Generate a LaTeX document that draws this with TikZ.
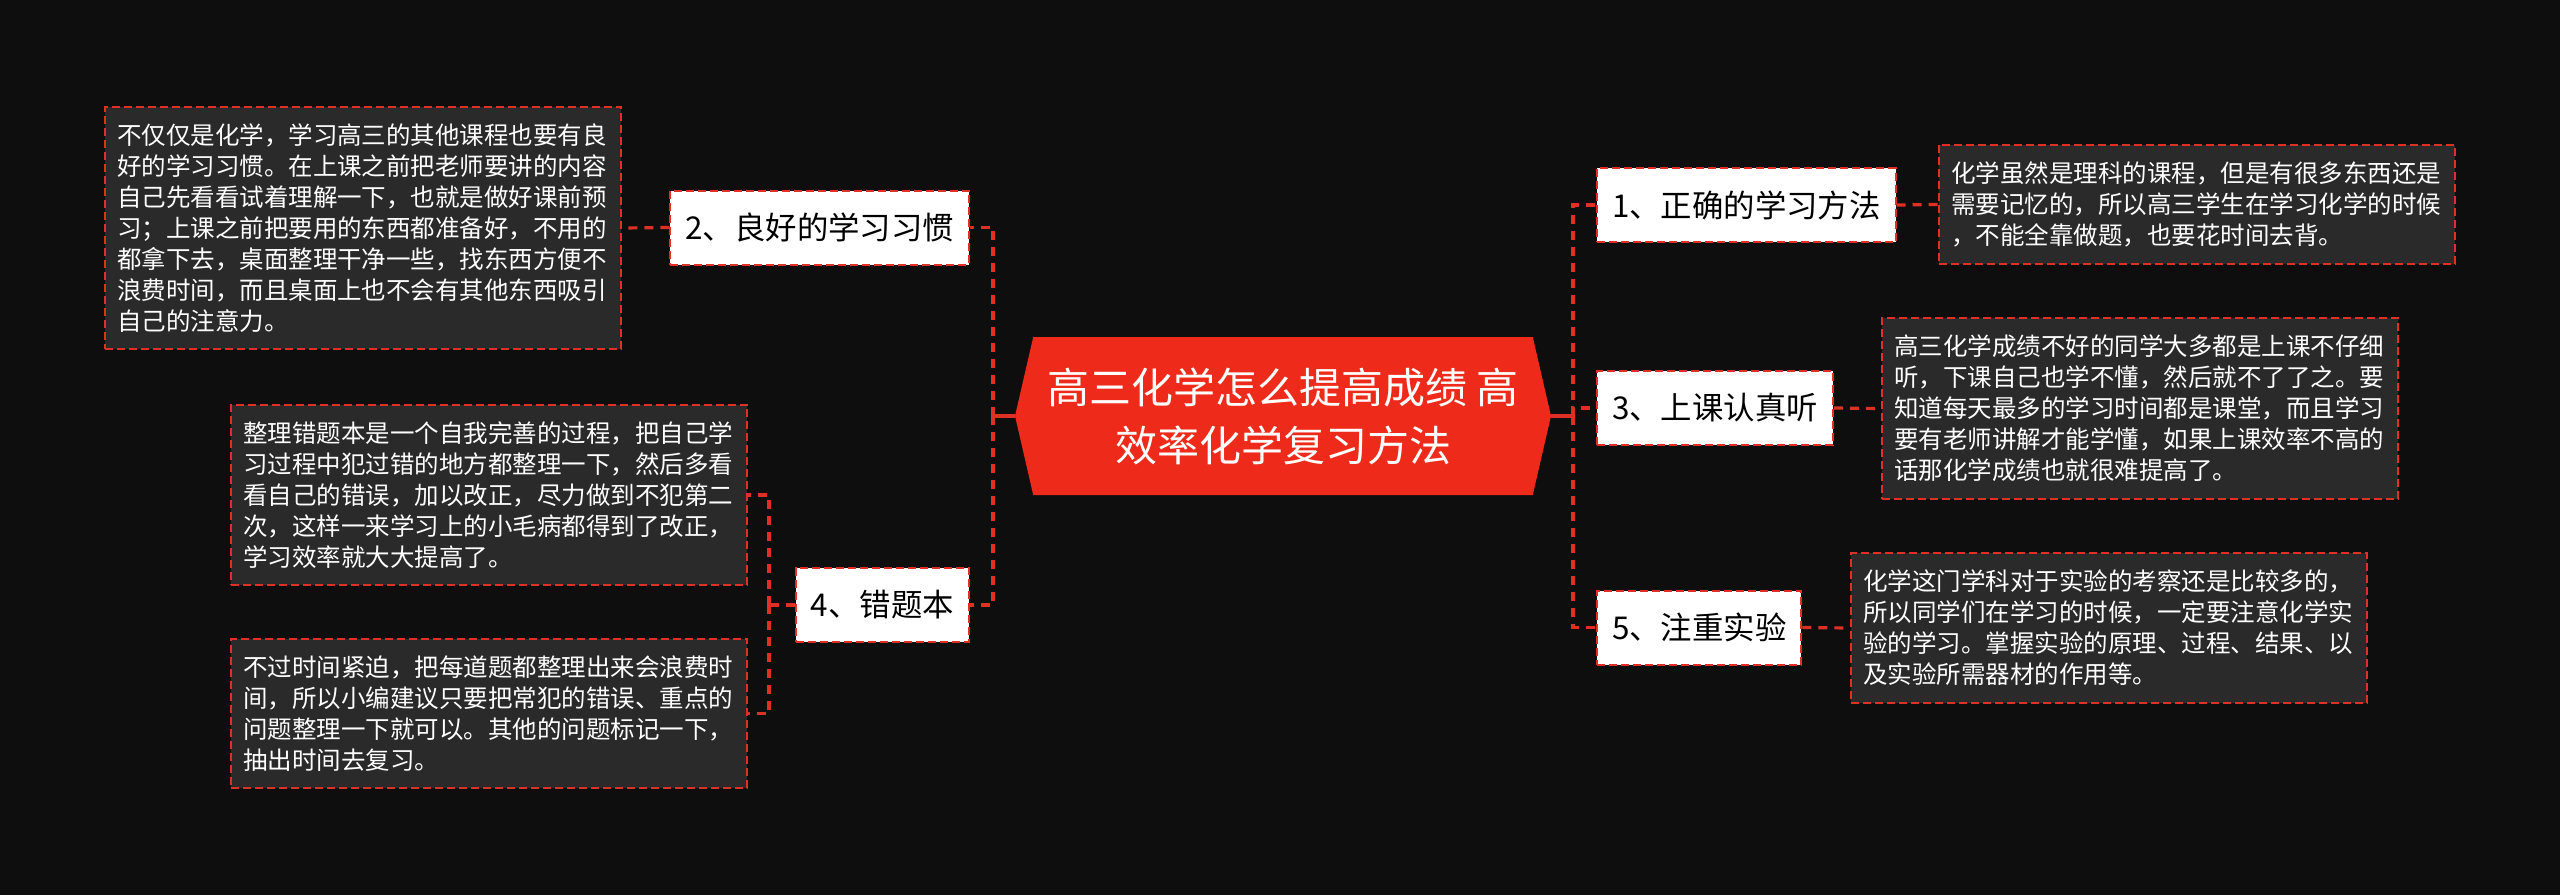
\documentclass[tikz,border=0pt]{standalone}
\usepackage{fontspec}
\setmainfont{Noto Sans CJK SC}
\usetikzlibrary{shapes.symbols}

\definecolor{bgblack}{RGB}{14,14,14}
\definecolor{rootred}{RGB}{238,42,26}
\definecolor{linered}{RGB}{224,48,38}
\definecolor{boxgray}{RGB}{42,42,42}

\tikzset{
  topic/.style={draw=linered, line width=1pt, dash pattern=on 4pt off 2pt,
    fill=white, text=black, font=\fontsize{15.7}{18}\selectfont,
    minimum height=37pt, inner xsep=7.5pt},
  detail/.style={draw=linered, line width=1pt, dash pattern=on 4pt off 2pt,
    fill=boxgray, text=white, font=\fontsize{12.25}{15.5}\selectfont,
    text width=246pt, align=left, inner xsep=6pt, inner ysep=8.5pt},
  link/.style={draw=linered, line width=1.6pt},
  dlink/.style={link, dash pattern=on 4.5pt off 3.5pt},
}

\begin{document}
\begin{tikzpicture}[x=0.5pt, y=-0.5pt]
  % canvas, 2560 x 895 px
  \useasboundingbox (0,0) rectangle (2560,895);
  \fill[bgblack] (0,0) rectangle (2560,895);

  % centre
  \node[signal, signal to=west and east, signal pointer angle=154,
        fill=rootred, text=white, font=\fontsize{21}{29}\selectfont,
        align=center, minimum width=268pt, minimum height=79pt, inner sep=0pt]
    (root) at (1283,416) {高三化学怎么提高成绩 高\\效率化学复习方法};

  \coordinate (rbus) at (1573,416);
  \coordinate (lbus) at (993,416);
  \coordinate (ebus) at (769,605);

  % right branches
  \node[topic, anchor=west] (n1) at (1596,205)   {1、正确的学习方法};
  \node[topic, anchor=west] (n3) at (1596,408)   {3、上课认真听};
  \node[topic, anchor=west] (n5) at (1596,627.5) {5、注重实验};

  \node[detail, anchor=west] (d1) at (1938,204.5) {化学虽然是理科的课程，但是有很多东西还是\\需要记忆的，所以高三学生在学习化学的时候\\，不能全靠做题，也要花时间去背。};
  \node[detail, anchor=west] (d3) at (1881,408.5) {高三化学成绩不好的同学大多都是上课不仔细\\听，下课自己也学不懂，然后就不了了之。要\\知道每天最多的学习时间都是课堂，而且学习\\要有老师讲解才能学懂，如果上课效率不高的\\话那化学成绩也就很难提高了。};
  \node[detail, anchor=west] (d5) at (1850,628) {化学这门学科对于实验的考察还是比较多的，\\所以同学们在学习的时候，一定要注意化学实\\验的学习。掌握实验的原理、过程、结果、以\\及实验所需器材的作用等。};

  % left branches
  \node[topic, anchor=east] (n2) at (970,227.5) {2、良好的学习习惯};
  \node[topic, anchor=east] (n4) at (970,605)   {4、错题本};

  \node[detail, anchor=east] (d2) at (622,228) {不仅仅是化学，学习高三的其他课程也要有良\\好的学习习惯。在上课之前把老师要讲的内容\\自己先看看试着理解一下，也就是做好课前预\\习；上课之前把要用的东西都准备好，不用的\\都拿下去，桌面整理干净一些，找东西方便不\\浪费时间，而且桌面上也不会有其他东西吸引\\自己的注意力。};
  \node[detail, anchor=east] (d4a) at (748,495) {整理错题本是一个自我完善的过程，把自己学\\习过程中犯过错的地方都整理一下，然后多看\\看自己的错误，加以改正，尽力做到不犯第二\\次，这样一来学习上的小毛病都得到了改正，\\学习效率就大大提高了。};
  \node[detail, anchor=east] (d4b) at (748,713.5) {不过时间紧迫，把每道题都整理出来会浪费时\\间，所以小编建议只要把常犯的错误、重点的\\问题整理一下就可以。其他的问题标记一下，\\抽出时间去复习。};

  % connectors
  \draw[link] (root.east) -- (rbus);
  \draw[link] (root.west) -- (lbus);
  \draw[dlink] (rbus) |- (n1.west);
  \draw[dlink] (rbus) |- (n3.west);
  \draw[dlink] (rbus) |- (n5.west);
  \draw[dlink] (lbus) |- (n2.east);
  \draw[dlink] (lbus) |- (n4.east);
  \draw[dlink] (n1.east) -- (d1.west);
  \draw[dlink] (n3.east) -- (d3.west);
  \draw[dlink] (n5.east) -- (d5.west);
  \draw[dlink] (n2.west) -- (d2.east);
  \draw[dlink] (n4.west) -- (ebus);
  \draw[dlink] (ebus) |- (d4a.east);
  \draw[dlink] (ebus) |- (d4b.east);
\end{tikzpicture}
\end{document}
